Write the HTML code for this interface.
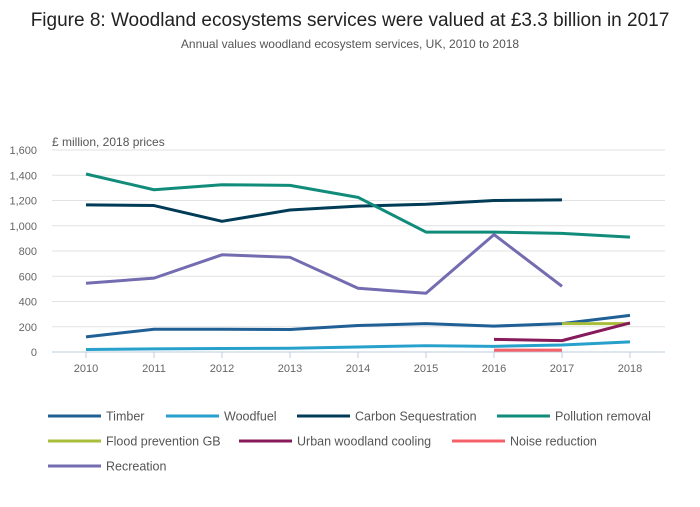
<!DOCTYPE html>
<html><head><meta charset="utf-8"><style>
body{margin:0;background:#fff;font-family:"Liberation Sans",sans-serif;}
svg text{font-family:"Liberation Sans",sans-serif;}
</style></head><body>
<svg width="700" height="502" id="c">
<text x="350" y="26" text-anchor="middle" font-size="19" fill="#222">Figure 8: Woodland ecosystems services were valued at £3.3 billion in 2017</text>
<text x="350" y="48" text-anchor="middle" font-size="12" fill="#555">Annual values woodland ecosystem services, UK, 2010 to 2018</text>
<text x="52" y="146" font-size="12" fill="#555">£ million, 2018 prices</text>
<g id="grid"></g><g id="series"></g><g id="legend"></g>
</svg>
<script>
const years=[2010,2011,2012,2013,2014,2015,2016,2017,2018];
const yTicks=[0,200,400,600,800,1000,1200,1400,1600];
const yTickLabels=["0","200","400","600","800","1,000","1,200","1,400","1,600"];
const seriesNames=["Timber","Woodfuel","Carbon Sequestration","Pollution removal","Flood prevention GB","Urban woodland cooling","Noise reduction","Recreation"];
const timber=[120,180,180,178,210,225,205,225,290];
const woodfuel=[20,25,28,30,40,50,45,55,80];
const carbon=[1165,1160,1035,1125,1155,1170,1200,1205,null];
const pollution=[1410,1285,1325,1320,1225,950,950,940,910];
const flood=[null,null,null,null,null,null,null,225,225];
const urban=[null,null,null,null,null,null,100,90,230];
const noise=[null,null,null,null,null,null,15,15,null];
const recreation=[545,585,770,750,505,465,930,520,null];
const colors=["#206095","#27a0cc","#003c57","#118c7b","#a8bd3a","#871a5b","#f66068","#746cb1"];
const allSeries=[timber,woodfuel,carbon,pollution,flood,urban,noise,recreation];
const NS="http://www.w3.org/2000/svg";
const x=i=>86+i*68, y=v=>352-v*(202/1600);
function mk(t,a,p){const e=document.createElementNS(NS,t);for(const k in a)e.setAttribute(k,a[k]);p.appendChild(e);return e;}
const g=document.getElementById('grid');
yTicks.forEach((v,i)=>{
 const l=mk('line',{x1:52,x2:665,y1:y(v),y2:y(v),stroke:i==0?'#bcd':'#e2e2e2','stroke-width':1},g);
 
 
 const t=mk('text',{x:37,y:y(v)+4,'text-anchor':'end','font-size':11,fill:'#666'},g);t.textContent=yTickLabels[i];
 
 
});
years.forEach((yr,i)=>{
 const l=mk('line',{x1:x(i),x2:x(i),y1:352,y2:358,stroke:'#bcd'},g);
 
 
 const t=mk('text',{x:x(i),y:372,'text-anchor':'middle','font-size':11,fill:'#666'},g);t.textContent=yr;
 
 
});
const s=document.getElementById('series');
allSeries.forEach((arr,k)=>{
 let d='',pen=false;
 arr.forEach((v,i)=>{if(v==null){pen=false;return;}d+=(pen?'L':'M')+x(i)+' '+y(v)+' ';pen=true;});
 const p=mk('path',{d:d,fill:'none',stroke:colors[k],'stroke-width':3,'stroke-linejoin':'round'},s);
 
 
});
const lg=document.getElementById('legend');
const legX=[48,166,297,497,48,239,452,48],legY=[416,416,416,416,441,441,441,466];
seriesNames.forEach((n,k)=>{
 const cx=legX[k],cy=legY[k];
 const l=mk('line',{x1:cx,x2:cx+53,y1:cy,y2:cy,stroke:colors[k],'stroke-width':3},lg);
 
 
 const t=mk('text',{x:cx+58,y:cy+4.5,'font-size':12.5,fill:'#555'},lg);t.textContent=n;
 
 
});
</script>
</body></html>
